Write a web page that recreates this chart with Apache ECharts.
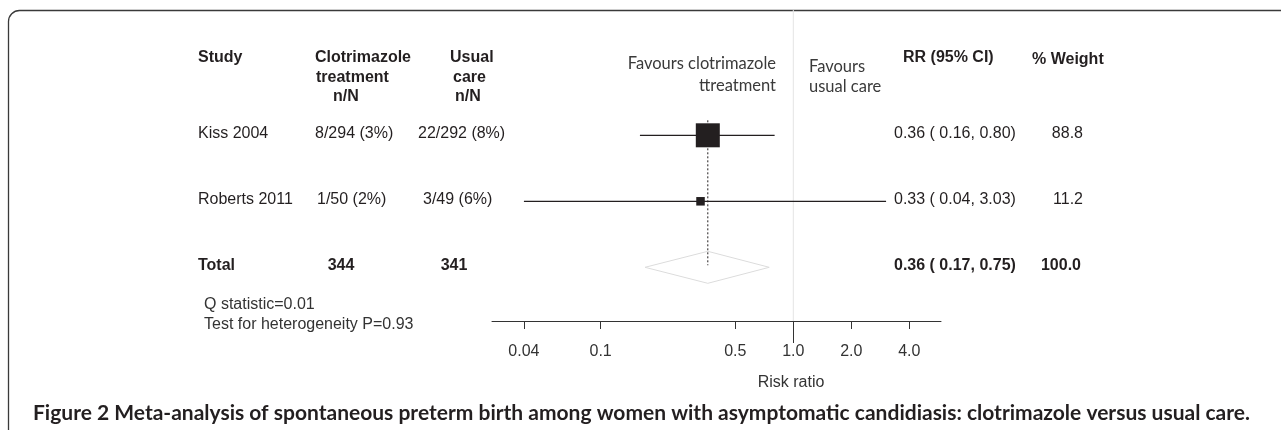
<!DOCTYPE html>
<html>
<head>
<meta charset="utf-8">
<title>Figure 2</title>
<script src="https://cdn.jsdelivr.net/npm/echarts@6/dist/echarts.min.js"></script>
<style>
html, body { margin: 0; padding: 0; background: #fff; }
#main { width: 1281px; height: 430px; }
</style>
</head>
<body>
<div id="main"></div>
<script>
// --- data ---
var studies = ['Kiss 2004', 'Roberts 2011'];
var treatEvents = [8, 1];
var treatTotal = [294, 50];
var careEvents = [22, 3];
var careTotal = [292, 49];
var rr = [0.36, 0.33];
var ciLow = [0.16, 0.04];
var ciHigh = [0.80, 3.03];
var weight = [88.8, 11.2];

var pooledLabel = 'Total';
var pooledRR = 0.36;
var pooledLow = 0.17;
var pooledHigh = 0.75;
var pooledTreatN = 344;
var pooledCareN = 341;
var pooledWeight = 100.0;

var tickValues = [0.04, 0.1, 0.5, 1.0, 2.0, 4.0];
var tickLabels = ['0.04', '0.1', '0.5', '1.0', '2.0', '4.0'];
var heterogeneity = ['Q statistic=0.01', 'Test for heterogeneity P=0.93'];
var caption = 'Figure 2 Meta-analysis of spontaneous preterm birth among women with asymptomatic candidiasis: clotrimazole versus usual care.';

// --- layout / style ---
var ARIAL = '"Liberation Sans", Arial, sans-serif';
var CAL = 'Lato, "Open Sans", sans-serif';
var INK = '#231f20';
var AXIS_OFFSET = 20.7;    // axis line sits below the plotting rows
var X_MIN = -1.5636, X_MAX = 0.7665;   // log10 risk ratio range of the axis line
var BOX_K = 24 / Math.sqrt(88.8);      // box side per sqrt(weight)

function log10(v) { return Math.log(v) / Math.LN10; }
function pct(a, b) { return a + '/' + b + ' (' + Math.round(a / b * 100) + '%)'; }
function ci(r, l, h) { return r.toFixed(2) + ' ( ' + l.toFixed(2) + ', ' + h.toFixed(2) + ')'; }

var categories = studies.concat([pooledLabel]);
var tickLogs = tickValues.map(log10);

var studyData = studies.map(function (s, i) {
	return [log10(rr[i]), log10(ciLow[i]), log10(ciHigh[i]), i, weight[i]];
});
var pooledData = [[log10(pooledRR), log10(pooledLow), log10(pooledHigh), studies.length]];

function txt(x, y, s, opt) {
	opt = opt || {};
	return {
		type: 'text',
		style: {
			x: x, y: y, text: s,
			fill: opt.fill || INK,
			font: (opt.bold ? 'bold ' : '') + (opt.size || 16) + 'px ' + (opt.family || ARIAL),
			align: opt.align || 'left',
			verticalAlign: 'middle'
		}
	};
}

var myChart = echarts.init(document.getElementById('main'));
var option = {
	animation: false,
	grid: { left: 492, width: 449, top: 102.3, height: 198 },
	xAxis: [{
		type: 'value',
		min: X_MIN,
		max: X_MAX,
		position: 'bottom',
		offset: AXIS_OFFSET,
		splitLine: { show: false },
		axisLine: { show: true, lineStyle: { color: '#333', width: 1 } },
		axisTick: { show: true, customValues: tickLogs, length: 8, lineStyle: { color: '#333' } },
		axisLabel: {
			customValues: tickLogs,
			margin: 23,
			fontSize: 16,
			fontFamily: ARIAL,
			color: '#333',
			formatter: function (v) {
				var best = 0;
				tickLogs.forEach(function (t, k) { if (Math.abs(t - v) < Math.abs(tickLogs[best] - v)) best = k; });
				return tickLabels[best];
			}
		}
	}, {
		// longer tick at the line of no effect
		type: 'value',
		min: X_MIN,
		max: X_MAX,
		position: 'bottom',
		offset: AXIS_OFFSET,
		splitLine: { show: false },
		axisLine: { show: false },
		axisTick: { show: true, customValues: [0], length: 22, lineStyle: { color: '#333' } },
		axisLabel: { show: false }
	}],
	yAxis: {
		type: 'category',
		data: categories,
		inverse: true,
		axisLine: { show: false },
		axisTick: { show: false },
		axisLabel: { show: false },
		splitLine: { show: false }
	},
	series: [
		{
			// line of no effect
			type: 'custom',
			data: [[0]],
			z: 1,
			renderItem: function (params, api) {
				var x = api.coord([api.value(0), 0])[0];
				var cs = params.coordSys;
				return {
					type: 'line',
					shape: { x1: x, y1: 10, x2: x, y2: cs.y + cs.height + AXIS_OFFSET },
					style: { stroke: '#e4e4e4', lineWidth: 1 }
				};
			}
		},
		{
			// study estimates
			type: 'custom',
			data: studyData,
			z: 3,
			renderItem: function (params, api) {
				var row = api.value(3);
				var c = api.coord([api.value(0), row]);
				var lo = api.coord([api.value(1), row])[0];
				var hi = api.coord([api.value(2), row])[0];
				var side = BOX_K * Math.sqrt(api.value(4));
				return {
					type: 'group',
					children: [
						{ type: 'line', shape: { x1: lo, y1: c[1], x2: hi, y2: c[1] }, style: { stroke: INK, lineWidth: 1.2 } },
						{ type: 'rect', shape: { x: c[0] - side / 2, y: c[1] - side / 2, width: side, height: side }, style: { fill: INK } }
					]
				};
			}
		},
		{
			// pooled estimate
			type: 'custom',
			data: pooledData,
			z: 2,
			renderItem: function (params, api) {
				var row = api.value(3);
				var c = api.coord([api.value(0), row]);
				var lo = api.coord([api.value(1), row])[0];
				var hi = api.coord([api.value(2), row])[0];
				var top = api.coord([api.value(0), 0])[1] - 15;
				var h = 16;
				return {
					type: 'group',
					children: [
						{ type: 'polygon', shape: { points: [[lo, c[1]], [c[0], c[1] - h], [hi, c[1]], [c[0], c[1] + h]] }, style: { fill: 'none', stroke: '#dcdcdc', lineWidth: 1 } },
						{ type: 'line', shape: { x1: c[0], y1: top, x2: c[0], y2: c[1] - 2 }, style: { stroke: INK, lineWidth: 1, lineDash: [2, 2] } }
					]
				};
			}
		},
		{
			// table columns
			type: 'custom',
			data: categories.map(function (c, i) { return [0, i]; }),
			z: 4,
			renderItem: function (params, api) {
				var i = api.value(1);
				var y = api.coord([0, i])[1] - 2;
				var kids;
				if (i < studies.length) {
					kids = [
						txt(198, y, studies[i]),
						txt(i === 0 ? 315 : 317, y, pct(treatEvents[i], treatTotal[i])),
						txt(i === 0 ? 418 : 423, y, pct(careEvents[i], careTotal[i])),
						txt(894, y, ci(rr[i], ciLow[i], ciHigh[i])),
						txt(1083, y, weight[i].toFixed(1), { align: 'right' })
					];
				} else {
					kids = [
						txt(198, y, pooledLabel, { bold: true }),
						txt(341, y, String(pooledTreatN), { bold: true, align: 'center' }),
						txt(454, y, String(pooledCareN), { bold: true, align: 'center' }),
						txt(894, y, ci(pooledRR, pooledLow, pooledHigh), { bold: true }),
						txt(1081, y, pooledWeight.toFixed(1), { bold: true, align: 'right' })
					];
				}
				return { type: 'group', children: kids };
			}
		}
	],
	graphic: [
		// frame
		{ type: 'rect', shape: { x: 8.5, y: 10.5, width: 1400, height: 600, r: 11 }, style: { fill: 'none', stroke: '#3a3a3a', lineWidth: 1.3 }, z: -1 },
		// headers
		txt(198, 58, 'Study', { bold: true }),
		txt(315, 58, 'Clotrimazole', { bold: true }),
		txt(316, 78, 'treatment', { bold: true }),
		txt(333, 97, 'n/N', { bold: true }),
		txt(450, 58, 'Usual', { bold: true }),
		txt(453, 78, 'care', { bold: true }),
		txt(455, 97, 'n/N', { bold: true }),
		txt(776, 64, 'Favours clotrimazole', { family: CAL, size: 16.5, fill: '#3a3a3a', align: 'right' }),
		txt(776, 86, 'ttreatment', { family: CAL, size: 16.5, fill: '#3a3a3a', align: 'right' }),
		txt(809, 67, 'Favours', { family: CAL, size: 16.5, fill: '#3a3a3a' }),
		txt(809, 87, 'usual care', { family: CAL, size: 16.5, fill: '#3a3a3a' }),
		txt(903, 58, 'RR (95% CI)', { bold: true }),
		txt(1032, 60, '% Weight', { bold: true }),
		// heterogeneity
		txt(204, 305, heterogeneity[0], { fill: '#333' }),
		txt(204, 325, heterogeneity[1], { fill: '#333' }),
		// axis title
		txt(791, 383, 'Risk ratio', { fill: '#333', align: 'center' }),
		// caption
		txt(33, 413, caption, { bold: true, family: CAL, size: 21 })
	]
};
myChart.setOption(option);
</script>
</body>
</html>
